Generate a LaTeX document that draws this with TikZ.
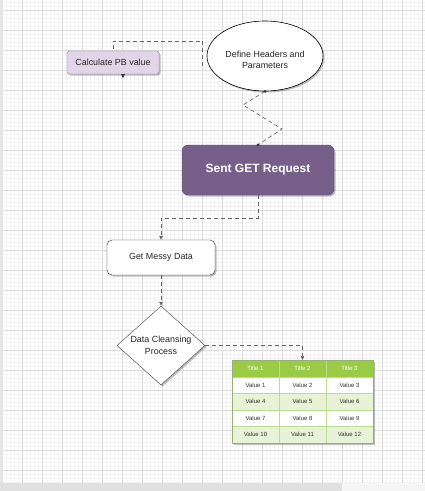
\documentclass[tikz,border=0pt]{standalone}
\usepackage{fontspec}
\setmainfont{Liberation Sans}
\usetikzlibrary{shapes.geometric,arrows.meta,shadows,calc}
\definecolor{gridminor}{HTML}{F3F3F3}
\definecolor{gridmajor}{HTML}{DCDCDC}
\definecolor{calcfill}{HTML}{E1D5E7}
\definecolor{calcdraw}{HTML}{9673A6}
\definecolor{sentfill}{HTML}{76608A}
\definecolor{sentdraw}{HTML}{5A4670}
\definecolor{hdrfill}{HTML}{99CC44}
\definecolor{rowfill}{HTML}{E7F2D6}
\definecolor{tblline}{HTML}{BCDC94}
\definecolor{conn}{HTML}{666666}
\begin{document}
\begin{tikzpicture}[x=1pt,y=-1pt,
  txt/.style={font=\fontsize{8.9}{11.5}\selectfont, text=black!85},
  shad/.style={drop shadow={shadow xshift=1.5pt,shadow yshift=-1.5pt,opacity=0.25,fill=black}},
  conline/.style={draw=conn, dashed, dash pattern=on 4pt off 3pt, line width=0.65pt},
  arr/.style={-{Triangle[length=4pt,width=3.5pt]}},
  cell/.style={minimum width=47pt, minimum height=16.5pt, inner sep=0pt, draw=tblline, line width=0.5pt, font=\fontsize{6}{7}\selectfont, text=black!80},
]
\useasboundingbox (0,0) rectangle (425,491);
\fill[white] (0,0) rectangle (425,491);
% grid
\foreach \x in {2,6,...,422} \draw[gridminor, line width=0.3pt] (\x,0) -- (\x,483);
\foreach \y in {2,6,...,482} \draw[gridminor, line width=0.3pt] (0,\y) -- (425,\y);
\foreach \x in {2,22,...,422} \draw[gridmajor, line width=0.5pt] (\x,0) -- (\x,483);
\foreach \y in {10,30,...,470} \draw[gridmajor, line width=0.5pt] (0,\y) -- (425,\y);
\fill[black!10] (0,0) rectangle (3,483);
\fill[black!12] (0,483) rectangle (342,491);
\fill[black!4] (342,483) rectangle (425,491);

% nodes
\node[txt, shad, draw=calcdraw, fill=calcfill, rounded corners=2.5pt, minimum width=92pt, minimum height=23pt, inner sep=0pt] (calc) at (113,62.5) {Calculate PB value};
\node[shad, ellipse, draw=black, line width=0.6pt, fill=white, minimum width=116pt, minimum height=70pt, inner sep=0pt] (ell) at (265,56) {};
\node[txt, align=center, inner sep=0pt] (elltxt) at (265,60) {Define Headers and\\Parameters};
\node[shad, draw=sentdraw, fill=sentfill, rounded corners=6pt, minimum width=152pt, minimum height=50pt, inner sep=0pt, text=white, font=\fontsize{12}{14}\selectfont\bfseries] (sent) at (258,170) {Sent GET Request};
\node[txt, shad, draw=black!80, fill=white, rounded corners=5pt, minimum width=108pt, minimum height=35pt, inner sep=0pt] (get) at (161,257.5) {Get Messy Data};
\node[txt, shad, diamond, draw=black!75, fill=white, minimum width=88pt, minimum height=79pt, inner sep=0pt, align=center] (dia) at (161,345.5) {Data Cleansing\\Process};

% table
\fill[black, opacity=0.25] (234,362) rectangle (375,445);
\node[cell, fill=hdrfill, minimum height=17pt, text=white] (h1) at (255.5,368.5) {Title 1};
\node[cell, fill=hdrfill, minimum height=17pt, text=white] (h2) at (302.5,368.5) {Title 2};
\node[cell, fill=hdrfill, minimum height=17pt, text=white] (h3) at (349.5,368.5) {Title 3};
\foreach \r/\f in {1/white,2/rowfill,3/white,4/rowfill} {
  \foreach \c in {1,2,3} {
    \pgfmathtruncatemacro{\v}{(\r-1)*3+\c}
    \node[cell, fill=\f] (c\r\c) at ({208.5+47*\c},{368.5+16.5*\r}) {Value \v};
  }
}
\coordinate (tbltop) at (302.5,360);
\draw[tblline!80!black, line width=0.5pt] (232,360) rectangle (373,443);

% connectors
\draw[conline] ([xshift=-4pt,yshift=-10pt]ell.west) -- ++(0,-25) -| (calc.north);
\draw[arr, draw=black!80, fill=black!80, line width=0.7pt] ([xshift=10pt]calc.south) -- ++(0,4);
\draw[conline] (ell.south) -- (243,105) -- (282,129) -- (sent.north);
\fill[black!80] (ell.south) circle (1.5pt);
\fill[black!80] (sent.north) circle (1.5pt);
\draw[conline, arr] (sent.south) -- ++(0,23) -| (get.north);
\draw[conline, arr] (get.south) -- (dia.north);
\draw[conline, arr] (dia.east) -| (tbltop);
\end{tikzpicture}
\end{document}
